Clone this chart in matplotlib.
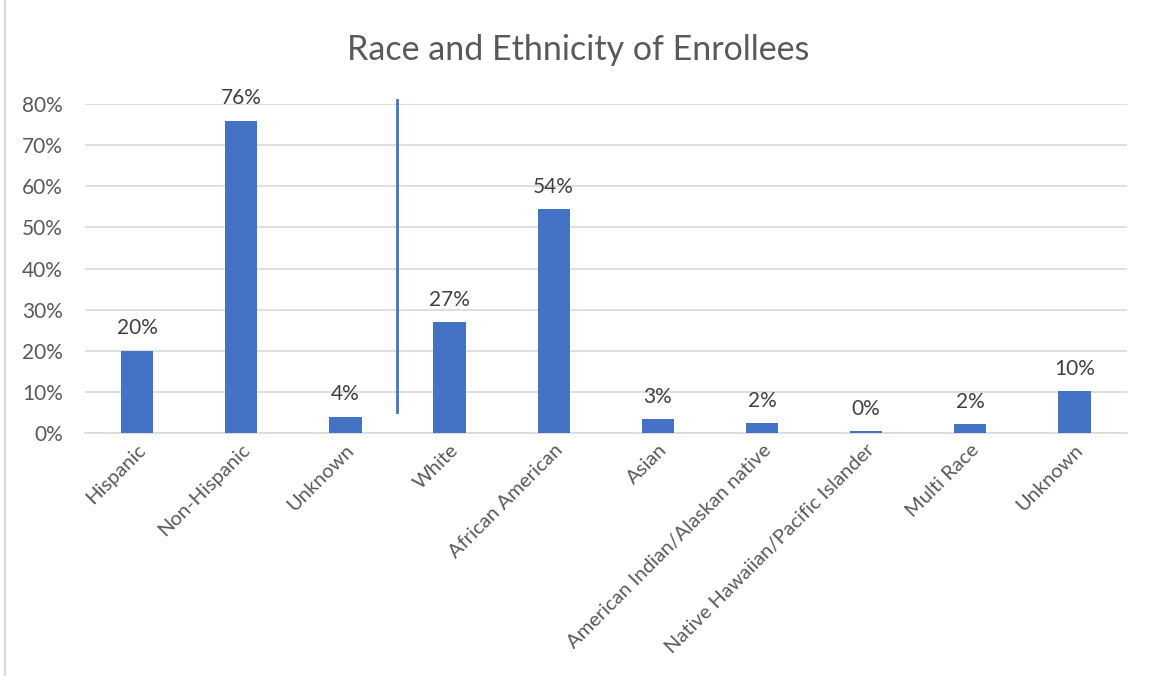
import matplotlib
matplotlib.use('Agg')
import matplotlib.pyplot as plt
import numpy as np

categories = ['Hispanic', 'Non-Hispanic', 'Unknown', 'White', 'African American',
              'Asian', 'American Indian/Alaskan native',
              'Native Hawaiian/Pacific Islander', 'Multi Race', 'Unknown']
values = [0.20, 0.76, 0.04, 0.27, 0.544, 0.034, 0.024, 0.004, 0.021, 0.102]
yticks = [0, 0.1, 0.2, 0.3, 0.4, 0.5, 0.6, 0.7, 0.8]

plt.rcParams['font.family'] = ['Lato', 'DejaVu Sans']
BLUE = '#4472C4'
TXT = '#595959'

fig = plt.figure(figsize=(11.51, 6.76), dpi=100)
ax = fig.add_axes([0.0738, 0.3595, 0.905, 0.4865])

x = np.arange(len(categories))
ax.bar(x, values, 0.31, color=BLUE, zorder=3)
for xi, v in zip(x, values):
    ax.text(xi, v + 0.03, f'{v*100:.0f}%', ha='center', va='bottom',
            fontsize=15, color='#404040')

# divider between ethnicity and race groups
ax.plot([2.5, 2.5], [0.05, 0.81], color=BLUE, linewidth=2, clip_on=False, zorder=4)

ax.set_xlim(-0.5, len(categories) - 0.5)
ax.set_ylim(0, 0.8)
ax.set_yticks(yticks)
ax.set_yticklabels([f'{t*100:.0f}%' for t in yticks], fontsize=15, color=TXT)
ax.set_xticks(x)
ax.set_xticklabels(categories, rotation=45, ha='right', rotation_mode='anchor',
                   fontsize=14.5, color=TXT)
ax.tick_params(axis='y', length=0, pad=16)
ax.tick_params(axis='x', length=0, pad=6)
ax.grid(axis='y', color='#d9d9d9', linewidth=1.2, zorder=0)
for s in ['top', 'right', 'left']:
    ax.spines[s].set_visible(False)
ax.spines['bottom'].set_color('#d9d9d9')
ax.spines['bottom'].set_linewidth(1.2)

fig.text(0.502, 0.926, 'Race and Ethnicity of Enrollees', ha='center', va='center',
         fontsize=24.5, color=TXT)

# light chart border on the left
fig.add_artist(plt.Line2D([0.004, 0.004], [0, 1], color='#d9d9d9', linewidth=1.5))

fig.savefig('out.png', dpi=100)
